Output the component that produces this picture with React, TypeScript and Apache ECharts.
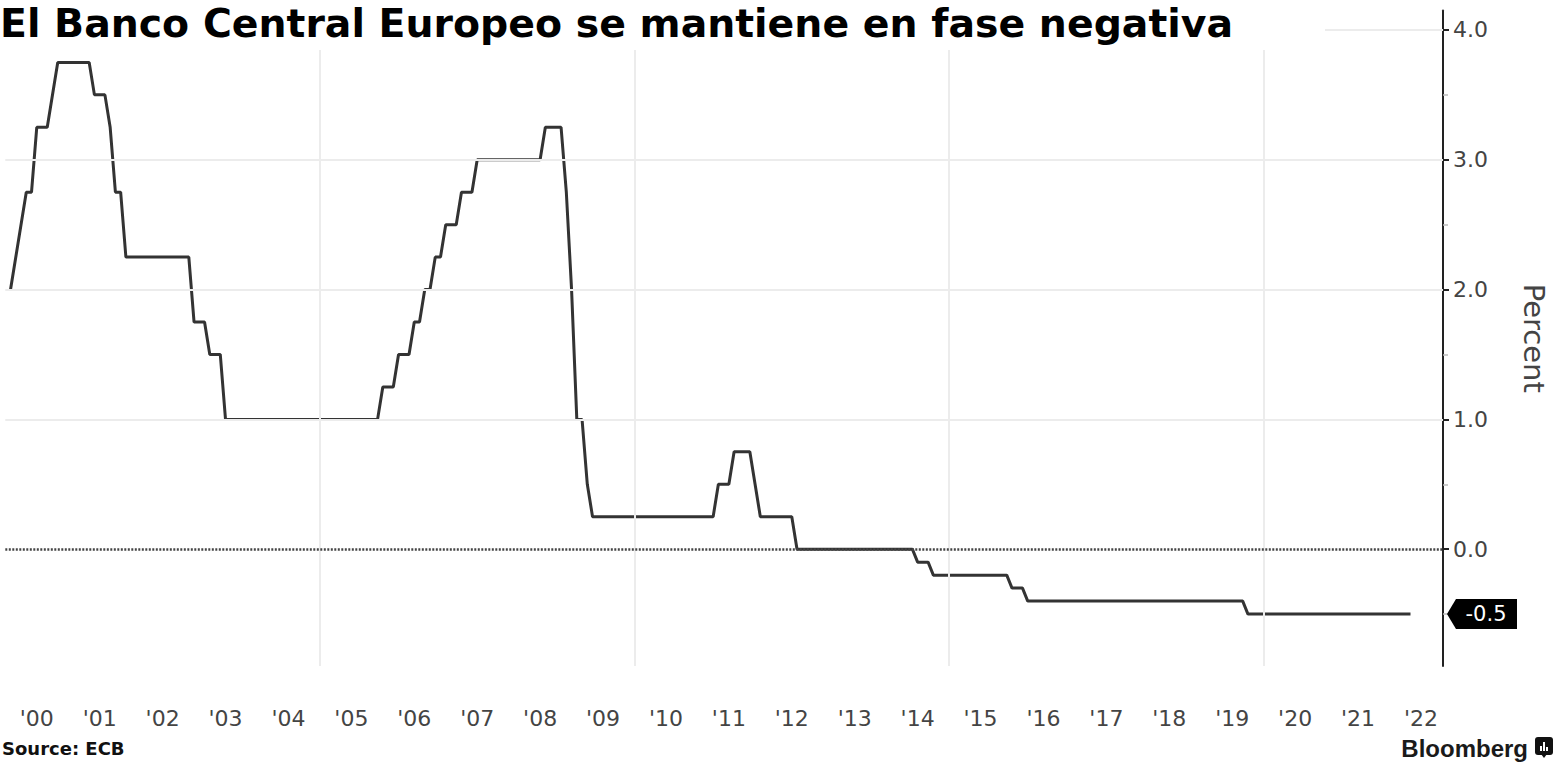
import React, { useEffect, useRef } from "react";
import * as echarts from "echarts";

// Month-end ECB deposit facility rate, corner points
const rateMonths: string[] = [
  "2000-01", "2000-04", "2000-05", "2000-06", "2000-08", "2000-10",
  "2001-04", "2001-05", "2001-07", "2001-08", "2001-09", "2001-10", "2001-11",
  "2002-11", "2002-12", "2003-02", "2003-03", "2003-05", "2003-06",
  "2005-11", "2005-12", "2006-02", "2006-03", "2006-05", "2006-06", "2006-07",
  "2006-08", "2006-09", "2006-10", "2006-11", "2006-12", "2007-02", "2007-03",
  "2007-05", "2007-06", "2008-06", "2008-07", "2008-10", "2008-11", "2008-12",
  "2009-01", "2009-02", "2009-03", "2009-04", "2011-03", "2011-04", "2011-06",
  "2011-07", "2011-10", "2011-11", "2011-12", "2012-06", "2012-07", "2014-05",
  "2014-06", "2014-08", "2014-09", "2015-11", "2015-12", "2016-02", "2016-03",
  "2019-08", "2019-09", "2022-04",
];
const rateValues: number[] = [
  2.0, 2.75, 2.75, 3.25, 3.25, 3.75,
  3.75, 3.5, 3.5, 3.25, 2.75, 2.75, 2.25,
  2.25, 1.75, 1.75, 1.5, 1.5, 1.0,
  1.0, 1.25, 1.25, 1.5, 1.5, 1.75, 1.75,
  2.0, 2.0, 2.25, 2.25, 2.5, 2.5, 2.75,
  2.75, 3.0, 3.0, 3.25, 3.25, 2.75, 2.0,
  1.0, 1.0, 0.5, 0.25, 0.25, 0.5, 0.5,
  0.75, 0.75, 0.5, 0.25, 0.25, 0.0, 0.0,
  -0.1, -0.1, -0.2, -0.2, -0.3, -0.3, -0.4,
  -0.4, -0.5, -0.5,
];
const yearLabels: number[] = [
  2000, 2001, 2002, 2003, 2004, 2005, 2006, 2007, 2008, 2009, 2010, 2011,
  2012, 2013, 2014, 2015, 2016, 2017, 2018, 2019, 2020, 2021, 2022,
];
const verticalGridYears: number[] = [2005, 2010, 2015, 2020];
const majorTicks: number[] = [0, 1, 2, 3, 4];
const minorTicks: number[] = [-0.5, 0.5, 1.5, 2.5, 3.5];
const horizontalGrid: number[] = [1, 2, 3, 4];

const TITLE = "El Banco Central Europeo se mantiene en fase negativa";
const SOURCE = "Source: ECB";

const toYear = (s: string) => {
  const [y, m] = s.split("-").map(Number);
  return y + m / 12;
};

export default function App() {
  const ref = useRef<HTMLDivElement>(null);
  useEffect(() => {
    if (!ref.current) return;
    const chart = echarts.init(ref.current, null, { renderer: "svg" });
    const data = rateMonths.map((m, i) => [toYear(m), rateValues[i]]);
    const xMax = 2022.85;
    const last = rateValues[rateValues.length - 1];
    const axisColor = "#444";
    chart.setOption({
      animation: false,
      backgroundColor: "#fff",
      grid: { left: 5.3, right: 112, top: 10.5, bottom: 102, containLabel: false, outerBoundsMode: "none" },
      xAxis: {
        type: "value",
        min: 2000,
        max: xMax,
        axisLine: { show: false },
        axisTick: { show: false },
        splitLine: { show: false },
        axisLabel: {
          customValues: yearLabels.map((y) => y + 0.5),
          formatter: (v: number) => "'" + String(Math.floor(v) % 100).padStart(2, "0"),
          margin: 41,
          fontSize: 22,
          color: axisColor,
          fontFamily: "DejaVu Sans",
        },
      },
      yAxis: [
        {
          type: "value",
          position: "right",
          min: -0.9,
          max: 4.15,
          axisLine: { show: true, lineStyle: { color: "#222", width: 2 } },
          axisTick: { show: true, customValues: majorTicks, length: 6, lineStyle: { color: "#222", width: 2 } },
          axisLabel: {
            customValues: majorTicks,
            formatter: (v: number) => v.toFixed(1),
            fontSize: 22,
            color: axisColor,
            margin: 10,
            fontFamily: "DejaVu Sans",
          },
          splitLine: { show: false },
          name: "Percent",
          nameLocation: "middle",
          nameRotate: -90,
          nameGap: 76,
          nameTextStyle: { fontSize: 29, color: axisColor, fontFamily: "DejaVu Sans" },
        },
        {
          type: "value",
          position: "right",
          min: -0.9,
          max: 4.15,
          axisLine: { show: false },
          axisTick: { show: true, customValues: minorTicks, length: 5, lineStyle: { color: "#bbb", width: 1.5 } },
          axisLabel: { show: false },
          splitLine: { show: false },
        },
      ],
      series: [
        {
          type: "line",
          data: [],
          z: 1,
          silent: true,
          markLine: {
            silent: true,
            symbol: "none",
            label: { show: false },
            lineStyle: { color: "#ececec", width: 2, type: "solid" },
            data: [
              ...verticalGridYears.map((y) => ({ xAxis: y })),
              ...horizontalGrid.map((v) => ({ yAxis: v })),
            ],
          },
        },
        {
          type: "line",
          data: [],
          z: 2,
          silent: true,
          markLine: {
            silent: true,
            symbol: "none",
            label: { show: false },
            lineStyle: { color: "#444", width: 2.5, type: [2, 1.5] },
            data: [{ yAxis: 0 }],
          },
        },
        {
          type: "line",
          data,
          z: 3,
          showSymbol: false,
          lineStyle: { color: "#333", width: 3 },
          markPoint: {
            silent: true,
            symbol: "path://M0,15 L9,0 L70,0 L70,30 L9,30 Z",
            symbolSize: [70, 30],
            symbolOffset: [39, 0],
            itemStyle: { color: "#000" },
            label: {
              show: true,
              position: "inside",
              offset: [4, 0],
              color: "#fff",
              fontSize: 21,
              fontFamily: "DejaVu Sans",
              formatter: (p: any) => Number(p.value).toFixed(1),
            },
            data: [{ coord: [xMax, last], value: last }],
          },
        },
      ],
      graphic: [
        {
          type: "rect",
          left: 0,
          top: 0,
          z: 50,
          shape: { width: 1325, height: 50 },
          style: { fill: "#fff" },
        },
        {
          type: "text",
          x: 0,
          y: 3,
          z: 51,
          style: {
            text: TITLE,
            font: "bold 39.4px 'DejaVu Sans'",
            fill: "#000",
            verticalAlign: "top",
          },
        },
        {
          type: "text",
          x: 2,
          y: 748,
          z: 51,
          style: {
            text: SOURCE,
            font: "bold 18px 'DejaVu Sans'",
            fill: "#111",
            verticalAlign: "middle",
          },
        },
        {
          type: "text",
          x: 1528,
          y: 748,
          z: 51,
          style: {
            text: "Bloomberg",
            font: "bold 24px 'Liberation Sans'",
            fill: "#1a1a1a",
            align: "right",
            verticalAlign: "middle",
          },
        },
        {
          type: "group",
          x: 1535,
          y: 737,
          z: 51,
          children: [
            { type: "rect", shape: { x: 0, y: 0, width: 18, height: 18, r: 3 }, style: { fill: "#111" } },
            { type: "polygon", shape: { points: [[6, 17], [12, 17], [9, 21]] }, style: { fill: "#111" } },
            { type: "rect", shape: { x: 5, y: 9, width: 2, height: 5 }, style: { fill: "#fff" } },
            { type: "rect", shape: { x: 8, y: 5, width: 2, height: 9 }, style: { fill: "#fff" } },
            { type: "rect", shape: { x: 11, y: 10, width: 2, height: 4 }, style: { fill: "#fff" } },
          ],
        },
      ],
    });
    return () => chart.dispose();
  }, []);
  return (
    <div
      ref={ref}
      style={{ position: "absolute", left: 0, top: 0, width: 1555, height: 768 }}
    />
  );
}
